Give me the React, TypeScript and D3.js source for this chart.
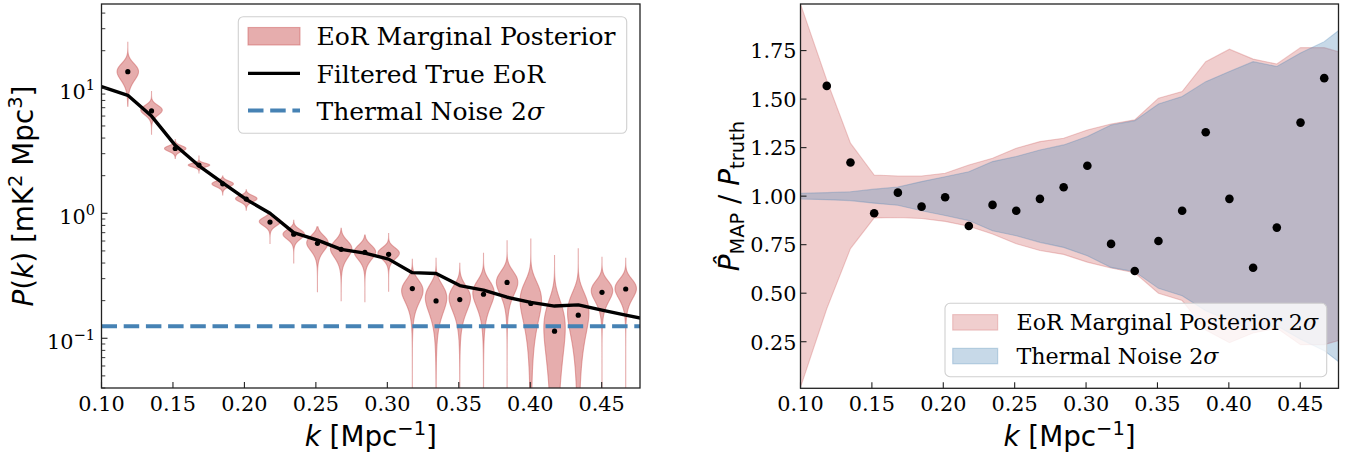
import React from 'react';
import * as d3 from 'd3';

// ---------------- data ----------------
const K = [0.1000, 0.1184, 0.1350, 0.1516, 0.1682, 0.1848, 0.2013, 0.2179, 0.2345, 0.2511, 0.2677, 0.2843,
  0.3009, 0.3175, 0.3341, 0.3507, 0.3673, 0.3838, 0.4004, 0.4170, 0.4336, 0.4502, 0.4668, 0.4834];
const TRUE_EOR = [10.3, 8.8, 6.0, 3.5, 2.4, 1.75, 1.29, 1.0, 0.70, 0.61, 0.515, 0.48,
  0.43, 0.335, 0.330, 0.264, 0.243, 0.213, 0.194, 0.181, 0.185, 0.168, 0.153, 0.14];
// violins / dots at K[1..22]
const K_BINS = [0.1184, 0.1350, 0.1516, 0.1682, 0.1848, 0.2013, 0.2179, 0.2345, 0.2511, 0.2677, 0.2843,
  0.3009, 0.3175, 0.3341, 0.3507, 0.3673, 0.3838, 0.4004, 0.4170, 0.4336, 0.4502, 0.4668];
const MAP_POWER = [13.6, 6.6, 3.3, 2.43, 1.72, 1.30, 0.85, 0.68, 0.575, 0.515, 0.488, 0.47,
  0.25, 0.199, 0.204, 0.225, 0.28, 0.19, 0.114, 0.153, 0.233, 0.248];
const VIOLIN_MODE = [13.6, 6.7, 3.3, 2.43, 1.72, 1.31, 0.86, 0.68, 0.58, 0.52, 0.49, 0.48,
  0.24, 0.21, 0.21, 0.23, 0.28, 0.20, 0.12, 0.16, 0.24, 0.25];
const VIOLIN_SIGMA = [2.1, 0.6, 0.17, 0.085, 0.09, 0.075, 0.065, 0.06, 0.08, 0.08, 0.065, 0.05,
  0.05, 0.055, 0.05, 0.055, 0.06, 0.075, 0.07, 0.065, 0.045, 0.045];
const VIOLIN_LO = [7.2, 4.3, 2.75, 2.1, 1.40, 1.06, 0.575, 0.40, 0.236, 0.20, 0.196, 0.236,
  0.005, 0.005, 0.005, 0.005, 0.005, 0.005, 0.005, 0.005, 0.005, 0.005];
const VIOLIN_HI = [23.6, 9.5, 3.9, 2.9, 1.99, 1.54, 1.0, 0.88, 0.78, 0.76, 0.67, 0.69,
  0.428, 0.436, 0.398, 0.479, 0.61, 0.63, 0.464, 0.525, 0.45, 0.436];
const THERMAL_NOISE = 0.125;

const RATIO = [1.568, 1.173, 0.912, 1.018, 0.946, 0.994, 0.846, 0.955, 0.925, 0.986, 1.046, 1.157,
  0.754, 0.614, 0.769, 0.925, 1.329, 0.986, 0.631, 0.838, 1.379, 1.608];
const EOR_UPPER = [1.99, 1.597, 1.273, 1.109, 1.104, 1.104, 1.118, 1.161, 1.195, 1.247, 1.281, 1.298,
  1.341, 1.372, 1.393, 1.505, 1.539, 1.693, 1.757, 1.706, 1.681, 1.765, 1.765, 1.73];
const EOR_LOWER = [0.015, 0.42, 0.73, 0.888, 0.89, 0.885, 0.87, 0.845, 0.805, 0.755, 0.72, 0.70,
  0.66, 0.63, 0.605, 0.50, 0.462, 0.31, 0.245, 0.295, 0.32, 0.235, 0.235, 0.27];
const NOISE_UPPER = [1.015, 1.018, 1.023, 1.036, 1.047, 1.075, 1.10, 1.126, 1.178, 1.204, 1.238, 1.264,
  1.307, 1.367, 1.389, 1.475, 1.513, 1.590, 1.642, 1.693, 1.668, 1.737, 1.796, 1.89];
const NOISE_LOWER = [0.985, 0.982, 0.977, 0.964, 0.953, 0.925, 0.90, 0.874, 0.822, 0.796, 0.762, 0.736,
  0.693, 0.633, 0.611, 0.525, 0.487, 0.41, 0.358, 0.307, 0.332, 0.263, 0.204, 0.11];

const X_TICKS = [0.10, 0.15, 0.20, 0.25, 0.30, 0.35, 0.40, 0.45];
const X_TICK_LABELS = ['0.10', '0.15', '0.20', '0.25', '0.30', '0.35', '0.40', '0.45'];
const LOG_Y_TICKS = [0.1, 1, 10];
const LOG_Y_EXP = ['\u22121', '0', '1'];
const RATIO_Y_TICKS = [0.25, 0.5, 0.75, 1.0, 1.25, 1.5, 1.75];
const RATIO_Y_LABELS = ['0.25', '0.50', '0.75', '1.00', '1.25', '1.50', '1.75'];

// ---------------- layout ----------------
const W = 1349, H = 455;
const L = { x0: 101.5, x1: 640, y0: 4, y1: 388 };
const R = { x0: 800.5, x1: 1338.5, y0: 4, y1: 388.3 };
const XDOM: [number, number] = [0.10, 0.4768];
const SERIF = '"DejaVu Serif", serif';
const SANS = '"DejaVu Sans", sans-serif';
const RED = 'indianred';
const BLUE = 'steelblue';
const TICK_FS = 20.8;
const LABEL_FS = 27.8;

export default function App() {
  const xL = d3.scaleLinear().domain(XDOM).range([L.x0, L.x1]);
  const yL = d3.scaleLog().domain([0.04, 47.3]).range([L.y1, L.y0]);
  const xR = d3.scaleLinear().domain(XDOM).range([R.x0, R.x1]);
  const yR = d3.scaleLinear().domain([0.01, 1.99]).range([R.y1, R.y0]);

  const minorTicks: number[] = [];
  for (const dec of [0.01, 0.1, 1, 10]) {
    for (let m = 2; m <= 9; m++) {
      const v = m * dec;
      if (v >= 0.04 && v <= 47.3) minorTicks.push(v);
    }
  }

  const HALF = 0.0075;
  const violinArea = d3.area<{ v: number; w: number; k: number }>()
    .y(d => yL(d.v))
    .x0(d => xL(d.k - d.w))
    .x1(d => xL(d.k + d.w));

  const violins = K_BINS.map((k, i) => {
    const mu = VIOLIN_MODE[i], s = VIOLIN_SIGMA[i], lo = VIOLIN_LO[i], hi = VIOLIN_HI[i];
    const pts: { v: number; w: number; k: number }[] = [];
    const N = 400;
    for (let j = 0; j <= N; j++) {
      const v = lo + (hi - lo) * j / N;
      const z = (v - mu) / s;
      pts.push({ v, w: HALF * Math.exp(-0.5 * z * z), k });
    }
    return violinArea(pts) as string;
  });

  const truthLine = d3.line<number>().x((_, i) => xL(K[i])).y(d => yL(d))(TRUE_EOR) as string;

  const bandArea = (up: number[], lo: number[]) =>
    d3.area<number>().x((_, i) => xR(K[i])).y0((_, i) => yR(lo[i])).y1(d => yR(d))(up) as string;
  const eorBand = bandArea(EOR_UPPER, EOR_LOWER);
  const noiseBand = bandArea(NOISE_UPPER, NOISE_LOWER);

  const tickMajor = 6, tickMinor = 3.8;

  return (
    <svg width={W} height={H} style={{ position: 'absolute', left: 0, top: 0, background: '#fff' }}>
      <defs>
        <clipPath id="clipL"><rect x={L.x0} y={L.y0} width={L.x1 - L.x0} height={L.y1 - L.y0} /></clipPath>
        <clipPath id="clipR"><rect x={R.x0} y={R.y0} width={R.x1 - R.x0} height={R.y1 - R.y0} /></clipPath>
      </defs>
      <rect x={0} y={0} width={W} height={H} fill="#fff" />

      {/* ---------- left panel ---------- */}
      <g clipPath="url(#clipL)">
        {violins.map((p, i) => (
          <path key={i} d={p} fill={RED} fillOpacity={0.5} stroke={RED} strokeOpacity={0.5} strokeWidth={1.1} />
        ))}
        <line x1={L.x0} x2={L.x1} y1={yL(THERMAL_NOISE)} y2={yL(THERMAL_NOISE)} stroke={BLUE}
          strokeWidth={4} strokeDasharray="15.5 6.7" />
        <path d={truthLine} fill="none" stroke="#000" strokeWidth={3.4} strokeLinejoin="round" />
        {MAP_POWER.map((v, i) => (
          <circle key={i} cx={xL(K_BINS[i])} cy={yL(v)} r={2.6} fill="#000" />
        ))}
      </g>
      {/* axes box */}
      <rect x={L.x0} y={L.y0} width={L.x1 - L.x0} height={L.y1 - L.y0} fill="none" stroke="#222" strokeWidth={1.3} />
      {X_TICKS.map((t, i) => (
        <g key={i}>
          <line x1={xL(t)} x2={xL(t)} y1={L.y1} y2={L.y1 - tickMajor} stroke="#222" strokeWidth={1.1} />
          <text x={xL(t)} y={411} textAnchor="middle" fontFamily={SERIF} fontSize={TICK_FS}>{X_TICK_LABELS[i]}</text>
        </g>
      ))}
      {minorTicks.map((t, i) => (
        <line key={i} x1={L.x0} x2={L.x0 + tickMinor} y1={yL(t)} y2={yL(t)} stroke="#222" strokeWidth={0.9} />
      ))}
      {LOG_Y_TICKS.map((t, i) => (
        <g key={i}>
          <line x1={L.x0} x2={L.x0 + tickMajor} y1={yL(t)} y2={yL(t)} stroke="#222" strokeWidth={1.1} />
          <text x={95} y={yL(t) + 11} textAnchor="end" fontFamily={SERIF} fontSize={TICK_FS}>
            10<tspan fontSize={TICK_FS * 0.7} dy={-9}>{LOG_Y_EXP[i]}</tspan>
          </text>
        </g>
      ))}
      {/* labels */}
      <text x={(L.x0 + L.x1) / 2} y={446} textAnchor="middle" fontFamily={SANS} fontSize={LABEL_FS}>
        <tspan fontStyle="italic">k</tspan> [Mpc<tspan fontSize={LABEL_FS * 0.7} dy={-11}>{'\u22121'}</tspan><tspan dy={11}>]</tspan>
      </text>
      <text transform={`translate(33,${(L.y0 + L.y1) / 2}) rotate(-90)`} textAnchor="middle" fontFamily={SANS} fontSize={LABEL_FS}>
        <tspan fontStyle="italic">P</tspan>(<tspan fontStyle="italic">k</tspan>) [mK<tspan fontSize={LABEL_FS * 0.7} dy={-11}>2</tspan><tspan dy={11}> Mpc</tspan><tspan fontSize={LABEL_FS * 0.7} dy={-11}>3</tspan><tspan dy={11}>]</tspan>
      </text>
      {/* legend left */}
      <g>
        <rect x={238.3} y={16.7} width={388.4} height={116.6} rx={5} fill="#fff" fillOpacity={0.8} stroke="#d0d0d0" strokeWidth={1.1} />
        <rect x={248} y={27.5} width={52} height={17.5} fill={RED} fillOpacity={0.5} stroke={RED} strokeOpacity={0.5} strokeWidth={1.1} />
        <line x1={248} x2={300} y1={73.4} y2={73.4} stroke="#000" strokeWidth={3.4} />
        <line x1={248} x2={300} y1={110.5} y2={110.5} stroke={BLUE} strokeWidth={4} strokeDasharray="15.5 6.7" />
        <text x={316.5} y={45.3} fontFamily={SERIF} fontSize={25}>EoR Marginal Posterior</text>
        <text x={316.5} y={82.6} fontFamily={SERIF} fontSize={25}>Filtered True EoR</text>
        <text x={316.5} y={120} fontFamily={SERIF} fontSize={25}>Thermal Noise 2<tspan fontStyle="italic">σ</tspan></text>
      </g>

      {/* ---------- right panel ---------- */}
      <g clipPath="url(#clipR)">
        <path d={eorBand} fill={RED} fillOpacity={0.3} stroke={RED} strokeOpacity={0.3} strokeWidth={1.1} />
        <path d={noiseBand} fill={BLUE} fillOpacity={0.3} stroke={BLUE} strokeOpacity={0.3} strokeWidth={1.1} />
        {RATIO.map((v, i) => (
          <circle key={i} cx={xR(K_BINS[i])} cy={yR(v)} r={4.3} fill="#000" />
        ))}
      </g>
      <rect x={R.x0} y={R.y0} width={R.x1 - R.x0} height={R.y1 - R.y0} fill="none" stroke="#222" strokeWidth={1.3} />
      {X_TICKS.map((t, i) => (
        <g key={i}>
          <line x1={xR(t)} x2={xR(t)} y1={R.y1} y2={R.y1 - tickMajor} stroke="#222" strokeWidth={1.1} />
          <text x={xR(t)} y={411} textAnchor="middle" fontFamily={SERIF} fontSize={TICK_FS}>{X_TICK_LABELS[i]}</text>
        </g>
      ))}
      {RATIO_Y_TICKS.map((t, i) => (
        <g key={i}>
          <line x1={R.x0} x2={R.x0 + tickMajor} y1={yR(t)} y2={yR(t)} stroke="#222" strokeWidth={1.1} />
          <text x={796.5} y={yR(t) + 7.8} textAnchor="end" fontFamily={SERIF} fontSize={TICK_FS}>{RATIO_Y_LABELS[i]}</text>
        </g>
      ))}
      <text x={(R.x0 + R.x1) / 2} y={446} textAnchor="middle" fontFamily={SANS} fontSize={LABEL_FS}>
        <tspan fontStyle="italic">k</tspan> [Mpc<tspan fontSize={LABEL_FS * 0.7} dy={-11}>{'\u22121'}</tspan><tspan dy={11}>]</tspan>
      </text>
      <text transform={`translate(739,${(R.y0 + R.y1) / 2}) rotate(-90)`} textAnchor="middle" fontFamily={SANS} fontSize={LABEL_FS}>
        <tspan fontStyle="italic">{'P\u0302'}</tspan><tspan fontSize={LABEL_FS * 0.7} dy={5}>MAP</tspan><tspan dy={-5}> / </tspan><tspan fontStyle="italic">P</tspan><tspan fontSize={LABEL_FS * 0.7} dy={5}>truth</tspan>
      </text>
      {/* legend right */}
      <g>
        <rect x={945} y={303.3} width={381.7} height={73.4} rx={5} fill="#fff" fillOpacity={0.8} stroke="#d0d0d0" strokeWidth={1.1} />
        <rect x={952.7} y={314.6} width={45} height={15.5} fill={RED} fillOpacity={0.3} stroke={RED} strokeOpacity={0.3} strokeWidth={1.1} />
        <rect x={952.7} y={348.3} width={45} height={15.5} fill={BLUE} fillOpacity={0.3} stroke={BLUE} strokeOpacity={0.3} strokeWidth={1.1} />
        <text x={1016.5} y={330.3} fontFamily={SERIF} fontSize={22.2}>EoR Marginal Posterior 2<tspan fontStyle="italic">σ</tspan></text>
        <text x={1016.5} y={364} fontFamily={SERIF} fontSize={22.2}>Thermal Noise 2<tspan fontStyle="italic">σ</tspan></text>
      </g>
    </svg>
  );
}
